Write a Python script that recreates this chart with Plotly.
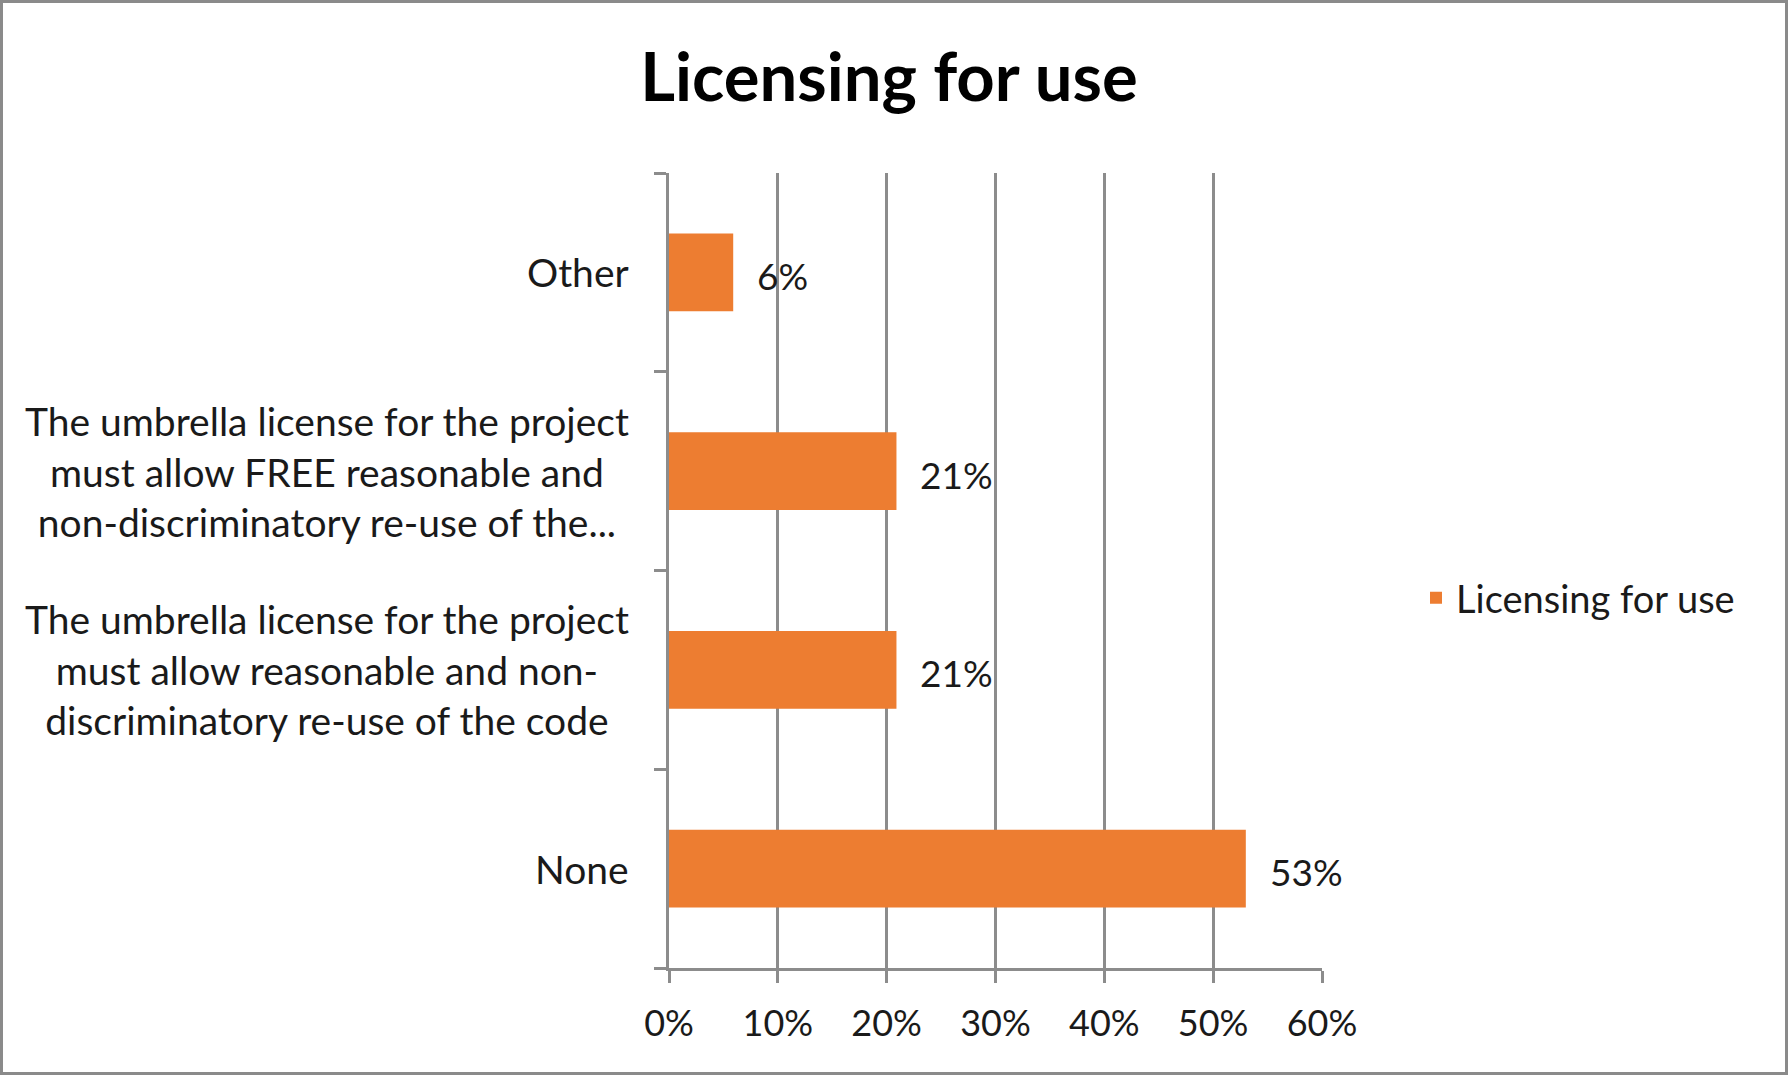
import plotly.graph_objects as go

categories = [
    "None",
    "The umbrella license for the project<br>must allow reasonable and non-<br>discriminatory re-use of the code",
    "The umbrella license for the project<br>must allow FREE reasonable and<br>non-discriminatory re-use of the...",
    "Other",
]
values = [0.53, 0.209, 0.209, 0.059]
value_labels = ["53%", "21%", "21%", "6%"]
series_name = "Licensing for use"
x_ticks = [0, 0.1, 0.2, 0.3, 0.4, 0.5, 0.6]
x_tick_labels = ["0%", "10%", "20%", "30%", "40%", "50%", "60%"]

W, H = 1788, 1075
ML, MR, MT, MB = 669, 466, 173, 107
PW, PH = W - ML - MR, H - MT - MB

ORANGE = "#ED7D31"
GRID = "#8c8c8c"
TEXT = "#1a1a1a"
FONT = "Lato, Open Sans, sans-serif"

fig = go.Figure()
fig.add_trace(go.Bar(
    x=values, y=categories, orientation="h",
    marker=dict(color=ORANGE, line=dict(width=0)),
    name=series_name, showlegend=True, hoverinfo="x+y",
))

annotations = []
for cat in categories:
    annotations.append(dict(
        x=0, xref="paper", y=cat, yref="y", text=cat,
        xanchor="right", yanchor="middle", align="center", xshift=-38,
        showarrow=False, font=dict(family=FONT, size=39, color=TEXT),
    ))
for cat, v, lab in zip(categories, values, value_labels):
    annotations.append(dict(
        x=v, xref="x", y=cat, yref="y", text=lab,
        xanchor="left", yanchor="middle", xshift=22, yshift=-3,
        showarrow=False, font=dict(family=FONT, size=37, color=TEXT),
    ))

fig.update_layout(
    width=W, height=H,
    margin=dict(l=ML, r=MR, t=MT, b=MB),
    paper_bgcolor="white", plot_bgcolor="white",
    font=dict(family=FONT, color=TEXT, size=36),
    title=dict(text="<b>Licensing for use</b>", x=889 / W, xref="container",
               y=1 - 78 / H, yref="container", xanchor="center", yanchor="middle",
               font=dict(family=FONT, size=67, color="#000000")),
    bargap=0.61,
    showlegend=True,
    legend=dict(x=(1416 - ML) / PW, y=1 - (598 - MT) / PH, xanchor="left", yanchor="middle",
                font=dict(family=FONT, size=38, color=TEXT), bgcolor="rgba(0,0,0,0)"),
    annotations=annotations,
    xaxis=dict(range=[0, 0.6], tickvals=x_ticks, ticktext=x_tick_labels,
               showgrid=True, gridcolor=GRID, gridwidth=2.5, zeroline=False,
               showline=True, linecolor=GRID, linewidth=2.5,
               ticks="outside", ticklen=12, tickwidth=2.5, tickcolor=GRID,
               ticklabelstandoff=10,
               tickfont=dict(family=FONT, size=36, color=TEXT), fixedrange=True),
    yaxis=dict(type="category", categoryorder="array", categoryarray=categories,
               range=[-0.5, len(categories) - 0.5],
               showticklabels=False, showgrid=False, zeroline=False,
               showline=True, linecolor=GRID, linewidth=2.5,
               ticks="outside", tickson="boundaries", ticklen=12, tickwidth=2.5, tickcolor=GRID,
               fixedrange=True),
    shapes=[dict(type="rect", xref="paper", yref="paper",
                 x0=(1.5 - ML) / PW, x1=(W - 1.5 - ML) / PW,
                 y0=-(MB - 1.5) / PH, y1=1 + (MT - 1.5) / PH,
                 line=dict(color="#8a8a8a", width=3), fillcolor="rgba(0,0,0,0)", layer="below")],
)

fig.write_html(
    "out.html",
    config={"displayModeBar": False},
    post_script="document.body.style.margin='0';document.body.style.overflow='hidden';",
)
